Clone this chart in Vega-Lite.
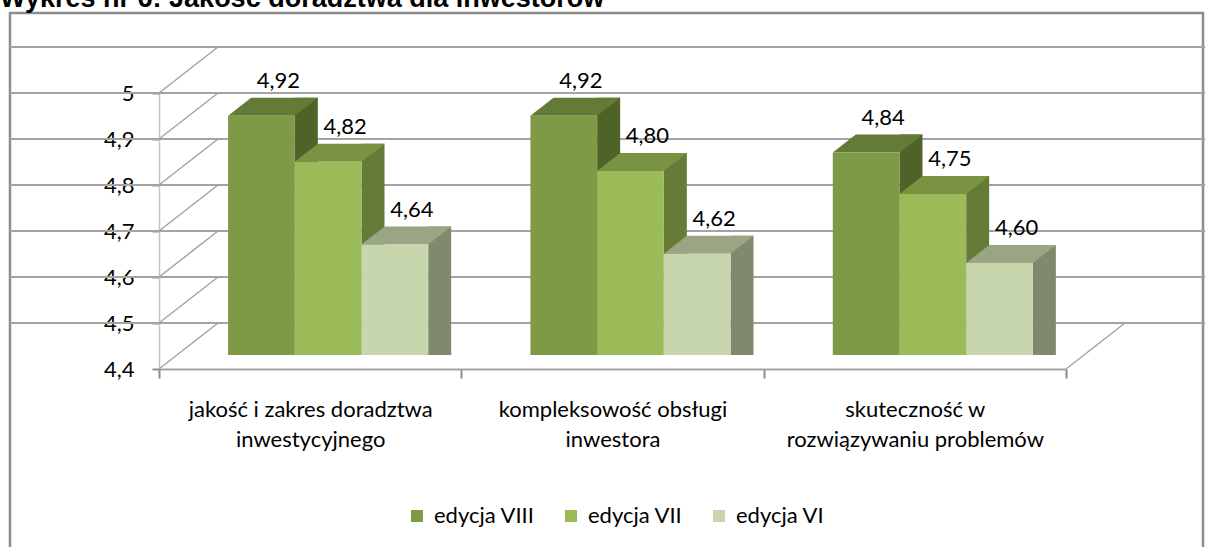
{
  "$schema": "https://vega.github.io/schema/vega-lite/v6.json",
  "width": 1193,
  "height": 540,
  "autosize": "none",
  "padding": {"left": 10, "top": 13, "right": 2, "bottom": 0},
  "title": {
    "text": "Wykres nr 6: Jakość doradztwa dla inwestorów",
    "anchor": "start",
    "frame": "group",
    "font": "Liberation Sans",
    "fontSize": 27,
    "fontWeight": "bold",
    "color": "#000000",
    "offset": 0,
    "dx": -10
  },
  "datasets": {
    "bars": [
      {"cat": "jakość i zakres doradztwa|inwestycyjnego", "ed": "edycja VIII", "v": 4.92},
      {"cat": "jakość i zakres doradztwa|inwestycyjnego", "ed": "edycja VII", "v": 4.82},
      {"cat": "jakość i zakres doradztwa|inwestycyjnego", "ed": "edycja VI", "v": 4.64},
      {"cat": "kompleksowość obsługi|inwestora", "ed": "edycja VIII", "v": 4.92},
      {"cat": "kompleksowość obsługi|inwestora", "ed": "edycja VII", "v": 4.80},
      {"cat": "kompleksowość obsługi|inwestora", "ed": "edycja VI", "v": 4.62},
      {"cat": "skuteczność w|rozwiązywaniu problemów", "ed": "edycja VIII", "v": 4.84},
      {"cat": "skuteczność w|rozwiązywaniu problemów", "ed": "edycja VII", "v": 4.75},
      {"cat": "skuteczność w|rozwiązywaniu problemów", "ed": "edycja VI", "v": 4.60}
    ],
    "ticks": [
      {"t": 4.4}, {"t": 4.5}, {"t": 4.6}, {"t": 4.7}, {"t": 4.8}, {"t": 4.9}, {"t": 5.0}
    ]
  },
  "resolve": {"scale": {"xOffset": "independent"}},
  "layer": [
    {
      "data": {"name": "ticks"},
      "mark": {"type": "rule", "color": "#A3A3A3", "strokeWidth": 2, "xOffset": 208, "x2Offset": -80, "yOffset": -46},
      "encoding": {
        "y": {
          "field": "t", "type": "quantitative",
          "scale": {"domain": [4.4, 5], "range": [356, 80], "zero": false, "nice": false},
          "axis": {
            "title": null, "orient": "left", "offset": -149,
            "values": [4.4, 4.5, 4.6, 4.7, 4.8, 4.9, 5],
            "format": ".1~f", "tickSize": 7, "tickColor": "#8C8C8C", "tickWidth": 2,
            "domainColor": "#C4C4C4", "domainWidth": 1.5,
            "labelFont": "Lato", "labelFontSize": 22, "labelColor": "#000000", "labelPadding": 18,
            "grid": false
          }
        }
      }
    },
    {
      "data": {"name": "ticks"},
      "mark": {"type": "point", "shape": "M-1,0.78L1,-0.78", "size": 3481, "filled": false, "stroke": "#A3A3A3", "strokeWidth": 1.5, "opacity": 1, "xOffset": 29.5, "yOffset": -23},
      "encoding": {
        "y": {"field": "t", "type": "quantitative"},
        "x": {"datum": "jakość i zakres doradztwa|inwestycyjnego", "type": "nominal", "bandPosition": 0}
      }
    },
    {
      "data": {"values": [{}]},
      "mark": {"type": "point", "shape": "M-1,0.78L1,-0.78", "size": 3481, "filled": false, "stroke": "#A3A3A3", "strokeWidth": 1.5, "opacity": 1, "xOffset": 29.5, "yOffset": -23},
      "encoding": {
        "y": {"datum": 4.4, "type": "quantitative"},
        "x": {"datum": "skuteczność w|rozwiązywaniu problemów", "type": "nominal", "bandPosition": 1}
      }
    },
    {
      "data": {"name": "bars"},
      "mark": {"type": "rule", "strokeWidth": 23, "strokeCap": "butt", "opacity": 1, "yOffset": -32, "y2Offset": -14},
      "encoding": {
        "x": {
          "field": "cat", "type": "nominal",
          "scale": {
            "type": "band",
            "domain": ["jakość i zakres doradztwa|inwestycyjnego", "kompleksowość obsługi|inwestora", "skuteczność w|rozwiązywaniu problemów"],
            "range": [149, 1056], "paddingInner": 0, "paddingOuter": 0
          },
          "axis": {
            "title": null, "orient": "bottom", "offset": -184, "tickBand": "extent",
            "tickSize": 9, "tickColor": "#8C8C8C", "tickWidth": 2,
            "domainColor": "#A3A3A3", "domainWidth": 2,
            "labelFont": "Lato", "labelFontSize": 22, "labelColor": "#000000", "labelAngle": 0,
            "labelAlign": "center", "labelFlush": false,
            "labelPadding": 31, "labelLimit": 0, "labelLineHeight": 30,
            "labelExpr": "split(datum.label, '|')"
          }
        },
        "xOffset": {
          "field": "ed", "type": "nominal",
          "scale": {"type": "band", "domain": ["edycja VIII", "edycja VII", "edycja VI"], "range": [113.95, 314.05], "paddingInner": 0, "paddingOuter": 0}
        },
        "y": {"field": "v", "type": "quantitative"},
        "y2": {"datum": 4.4},
        "stroke": {
          "field": "ed", "type": "nominal",
          "scale": {"domain": ["edycja VI", "edycja VII", "edycja VIII"], "range": ["#7E8A6B", "#657B37", "#4F6228"]},
          "legend": null
        }
      }
    },
    {
      "data": {"name": "bars"},
      "mark": {"type": "point", "shape": "M-1,0.2L0.482,0.2L1,-0.2L-0.489,-0.2Z", "size": 8100, "filled": true, "strokeWidth": 0, "opacity": 1, "yOffset": -23},
      "encoding": {
        "x": {"field": "cat", "type": "nominal"},
        "xOffset": {
          "field": "ed", "type": "nominal",
          "scale": {"type": "band", "domain": ["edycja VIII", "edycja VII", "edycja VI"], "range": [80.75, 280.85], "paddingInner": 0, "paddingOuter": 0}
        },
        "y": {"field": "v", "type": "quantitative"},
        "fill": {
          "field": "ed", "type": "nominal",
          "scale": {"domain": ["edycja VII", "edycja VIII", "edycja VI"], "range": ["#7A9342", "#647A37", "#9AA586"]},
          "legend": null
        }
      }
    },
    {
      "data": {"name": "bars"},
      "mark": {"type": "bar", "yOffset": -14, "y2Offset": -14},
      "encoding": {
        "x": {"field": "cat", "type": "nominal"},
        "xOffset": {
          "field": "ed", "type": "nominal",
          "scale": {"type": "band", "domain": ["edycja VIII", "edycja VII", "edycja VI"], "range": [69.1, 269.2], "paddingInner": 0, "paddingOuter": 0}
        },
        "y": {"field": "v", "type": "quantitative"},
        "y2": {"datum": 4.4},
        "color": {
          "field": "ed", "type": "nominal",
          "scale": {"domain": ["edycja VIII", "edycja VII", "edycja VI"], "range": ["#7E9A47", "#9BBB59", "#C7D6AC"]},
          "legend": {
            "orient": "none", "legendX": 396, "legendY": 492, "direction": "horizontal",
            "title": null, "symbolType": "square", "symbolSize": 144, "symbolStrokeWidth": 0,
            "labelFont": "Lato", "labelFontSize": 22, "labelColor": "#000000",
            "columnPadding": 25, "labelOffset": 6, "padding": 0
          }
        }
      }
    },
    {
      "data": {"name": "bars"},
      "mark": {"type": "text", "font": "Lato", "fontSize": 22, "color": "#000000", "align": "center", "baseline": "alphabetic", "yOffset": -42},
      "encoding": {
        "x": {"field": "cat", "type": "nominal"},
        "xOffset": {
          "field": "ed", "type": "nominal",
          "scale": {"type": "band", "domain": ["edycja VIII", "edycja VII", "edycja VI"], "range": [86.1, 286.2], "paddingInner": 0, "paddingOuter": 0}
        },
        "y": {"field": "v", "type": "quantitative"},
        "text": {"field": "v", "type": "quantitative", "format": ".2f"}
      }
    }
  ],
  "config": {
    "locale": {"number": {"decimal": ",", "thousands": " ", "grouping": [3], "currency": ["", " zł"]}},
    "view": {"stroke": "#8D8D8D", "strokeWidth": 2.5}
  }
}
